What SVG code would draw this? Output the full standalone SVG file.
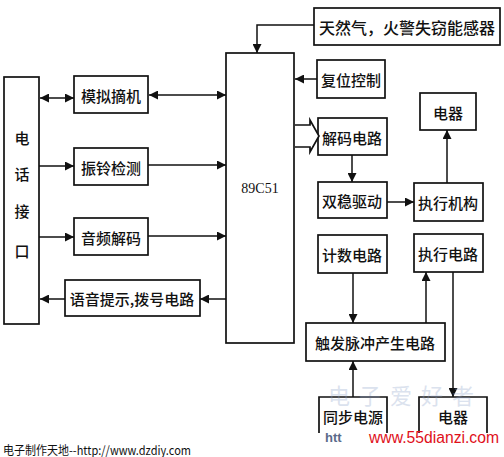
<svg xmlns="http://www.w3.org/2000/svg" width="504" height="457" viewBox="0 0 504 457">
<style>
.box{fill:#fff;stroke:#111;stroke-width:1.7}
.open{fill:none;stroke:#111;stroke-width:1.7}
.t{font-family:"Noto Sans CJK SC","Noto Sans CJK JP",sans-serif;font-size:15px;fill:#111;text-anchor:middle;dominant-baseline:central;font-weight:500}
.c{fill:none;stroke:#111;stroke-width:1.5}
.a{marker-end:url(#ah)}
.d{marker-start:url(#ah);marker-end:url(#ah)}
</style>
<defs>
<marker id="ah" viewBox="0 0 10 10" refX="10" refY="5" markerWidth="10" markerHeight="9" markerUnits="userSpaceOnUse" orient="auto-start-reverse">
<path d="M0,0 L10,5 L0,10 z" fill="#111"/>
</marker>
</defs>
<rect width="504" height="457" fill="#fff"/>

<g id="phone">
<rect class="box" x="4" y="77" width="35" height="247"/>
<text class="t" x="22" y="137">电</text>
<text class="t" x="22" y="173">话</text>
<text class="t" x="22" y="210">接</text>
<text class="t" x="22" y="250">口</text>
</g>
<g id="offhook"><rect class="box" x="74" y="76" width="74" height="37"/><text class="t" x="111" y="95">模拟摘机</text></g>
<g id="ring"><rect class="box" x="74" y="148" width="74" height="37"/><text class="t" x="111" y="167">振铃检测</text></g>
<g id="audio"><rect class="box" x="74" y="218" width="74" height="37"/><text class="t" x="111" y="237">音频解码</text></g>
<g id="voice"><rect class="box" x="65" y="280" width="135" height="36"/><text class="t" x="132" y="298">语音提示,拨号电路</text></g>
<g id="mcu"><rect class="box" x="226" y="53" width="68" height="290"/><text x="260" y="193" font-family="Liberation Serif, serif" font-size="14" text-anchor="middle" fill="#111">89C51</text></g>
<g id="sensor"><rect class="box" x="314" y="8" width="186" height="37"/><text class="t" x="407" y="27" style="font-size:16px">天然气，火警失窃能感器</text></g>
<g id="reset"><rect class="box" x="317" y="60" width="68" height="38"/><text class="t" x="351" y="79">复位控制</text></g>
<g id="decode"><rect class="box" x="318" y="118" width="69" height="37"/><text class="t" x="352" y="137">解码电路</text></g>
<g id="bistable"><rect class="box" x="318" y="182" width="69" height="36"/><text class="t" x="352" y="200">双稳驱动</text></g>
<g id="actuator"><rect class="box" x="414" y="183" width="69" height="38"/><text class="t" x="448" y="202">执行机构</text></g>
<g id="appliance1"><rect class="box" x="420" y="93" width="56" height="37"/><text class="t" x="448" y="112">电器</text></g>
<g id="counter"><rect class="box" x="318" y="235" width="69" height="38"/><text class="t" x="352" y="254">计数电路</text></g>
<g id="exec"><rect class="box" x="414" y="234" width="69" height="38"/><text class="t" x="448" y="253">执行电路</text></g>
<g id="trigger"><rect class="box" x="306" y="323" width="139" height="38"/><text class="t" x="375" y="342">触发脉冲产生电路</text></g>
<g id="sync"><path class="open" d="M319,433 V397 H387 V433"/><text class="t" x="353" y="416">同步电源</text></g>
<g id="appliance2"><path class="open" d="M419,433 V397 H487 V433"/><text class="t" x="453" y="416">电器</text></g>

<g id="connectors">
<path class="c d" d="M40,98 H74"/>
<path class="c d" d="M149,95 H226"/>
<path class="c a" d="M39,166 H74"/>
<path class="c a" d="M148,165 H226"/>
<path class="c a" d="M39,237 H74"/>
<path class="c a" d="M148,236 H226"/>
<path class="c a" d="M226,299 H200"/>
<path class="c a" d="M65,299 H40"/>
<path class="c a" d="M314,25 H257 V53"/>
<path class="c a" d="M317,79 H295"/>
<path d="M295,125 H310 V120 L319,136 L310,152 V147 H295" fill="#fff" stroke="#111" stroke-width="1.7"/>
<path class="c a" d="M352,155 V182"/>
<path class="c a" d="M387,202 H414"/>
<path class="c a" d="M447,183 V130"/>
<path class="c a" d="M353,273 V323"/>
<path class="c a" d="M426,323 V272"/>
<path class="c a" d="M453,272 V397"/>
<path class="c a" d="M353,397 V361"/>
</g>

<text x="328" y="404" font-family="Noto Sans CJK SC, sans-serif" font-size="22" fill="#8aa0c8" opacity="0.3" letter-spacing="9">电子爱好者</text>
<text x="325" y="442" font-family="Liberation Sans, sans-serif" font-size="13" font-weight="bold" fill="#5a6a8a">htt</text>
<text x="369" y="443" font-family="Liberation Sans, sans-serif" font-size="16" fill="#e0101a" textLength="130" lengthAdjust="spacingAndGlyphs">www.55dianzi.com</text>
<text x="3" y="455" font-family="Noto Sans CJK SC, Liberation Sans, sans-serif" font-size="12" fill="#111" textLength="188" lengthAdjust="spacingAndGlyphs">电子制作天地--http://www.dzdiy.com</text>
</svg>
